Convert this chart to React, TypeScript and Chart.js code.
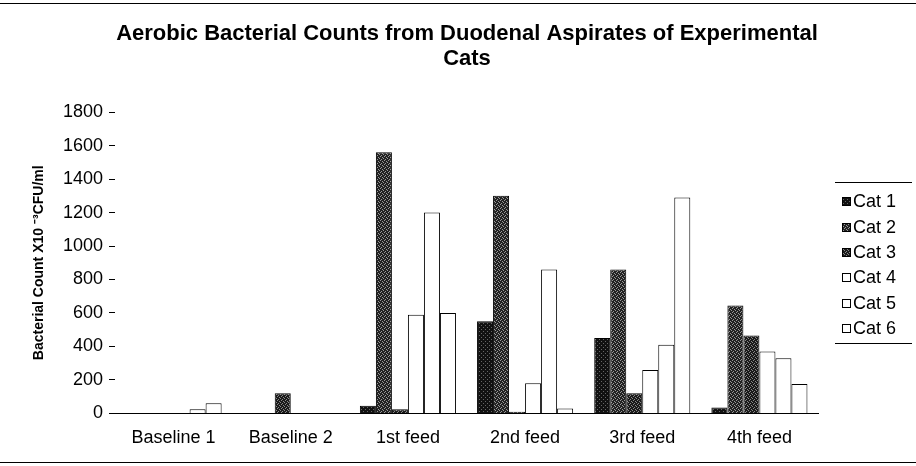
import React, { useEffect, useRef } from "react";
import { Chart, registerables } from "chart.js";

Chart.register(...registerables);

const categories = ["Baseline 1", "Baseline 2", "1st feed", "2nd feed", "3rd feed", "4th feed"];
const seriesNames = ["Cat 1", "Cat 2", "Cat 3", "Cat 4", "Cat 5", "Cat 6"];
const cat1 = [0, 0, 45, 550, 450, 35];
const cat2 = [0, 0, 1560, 1300, 860, 645];
const cat3 = [0, 120, 25, 10, 120, 465];
const cat4 = [0, 0, 590, 180, 260, 370];
const cat5 = [25, 0, 1200, 860, 410, 330];
const cat6 = [60, 0, 600, 30, 1290, 175];
const yTicks = [0, 200, 400, 600, 800, 1000, 1200, 1400, 1600, 1800];

const titleLines = ["Aerobic Bacterial Counts from Duodenal Aspirates of Experimental", "Cats"];
const yTitle = "Bacterial Count X10 \u207B\u00B3CFU/ml";
const FONT = "Liberation Sans, Arial, sans-serif";

function makePattern(base: string, dot: string, dots: number[][]) {
  const c = document.createElement("canvas");
  c.width = 4;
  c.height = 4;
  const g = c.getContext("2d")!;
  g.fillStyle = base;
  g.fillRect(0, 0, 4, 4);
  g.fillStyle = dot;
  dots.forEach(([x, y]) => g.fillRect(x, y, 1, 1));
  return g.createPattern(c, "repeat")!;
}

const framePlugin = {
  id: "frame",
  afterDraw(chart: any) {
    const ctx = chart.ctx;
    const area = chart.chartArea;
    ctx.save();
    ctx.strokeStyle = "#000";
    ctx.lineWidth = 1;
    ctx.beginPath();
    ctx.moveTo(0, 3.5);
    ctx.lineTo(chart.width, 3.5);
    ctx.moveTo(0, 462.5);
    ctx.lineTo(chart.width, 462.5);
    ctx.stroke();

    // legend
    const ds = chart.data.datasets;
    const step = 25.4;
    const cy = (area.top + area.bottom) / 2 + 2;
    const first = cy - ((ds.length - 1) * step) / 2;
    const bx = area.right + 24;
    ctx.font = "18px " + FONT;
    ctx.textBaseline = "middle";
    ctx.textAlign = "left";
    ds.forEach((d: any, i: number) => {
      const y = Math.round(first + i * step);
      ctx.fillStyle = d.backgroundColor;
      ctx.fillRect(bx, y - 4, 8, 8);
      ctx.strokeStyle = "#000";
      ctx.strokeRect(bx + 0.5, y - 3.5, 8, 8);
      ctx.fillStyle = "#000";
      ctx.fillText(d.label, bx + 11, y + 1);
    });
    ctx.beginPath();
    const lt = Math.round(first - 19) + 0.5;
    const lb = Math.round(first + (ds.length - 1) * step + 15) + 0.5;
    ctx.moveTo(area.right + 17, lt);
    ctx.lineTo(chart.width - 4, lt);
    ctx.moveTo(area.right + 17, lb);
    ctx.lineTo(chart.width - 4, lb);
    ctx.stroke();
    ctx.restore();
  },
};

export default function App() {
  const ref = useRef<HTMLCanvasElement>(null);
  useEffect(() => {
    const p1 = makePattern("#111", "#666", [[1, 1], [3, 3]]);
    const p2 = makePattern("#222", "#999", [[0, 0], [2, 1], [1, 3], [3, 2]]);
    const p3 = makePattern("#1a1a1a", "#888", [[1, 0], [3, 1], [0, 2], [2, 3]]);
    const fills = [p1, p2, p3, "#fff", "#fff", "#fff"];
    const values = [cat1, cat2, cat3, cat4, cat5, cat6];
    const chart = new Chart(ref.current!, {
      type: "bar",
      data: {
        labels: categories,
        datasets: seriesNames.map((name, i) => ({
          label: name,
          data: values[i],
          backgroundColor: fills[i] as any,
          borderColor: "#000",
          borderWidth: 1,
          categoryPercentage: 0.82,
          barPercentage: 1.0,
          yAxisID: "y",
        })),
      },
      options: {
        animation: false,
        responsive: false,
        maintainAspectRatio: false,
        layout: { padding: { left: 18, right: 0, top: 0, bottom: 3 } },
        plugins: {
          title: {
            display: true,
            text: titleLines,
            color: "#000",
            font: { family: FONT, size: 22, weight: "bold", lineHeight: 1.14 },
            padding: { top: 21, bottom: 41 },
          },
          legend: { display: false },
          tooltip: { enabled: false },
        },
        scales: {
          x: {
            grid: { display: false, drawTicks: false },
            border: { display: true, color: "#000", width: 1 },
            ticks: { color: "#000", font: { family: FONT, size: 18 }, padding: 14 },
          },
          y: {
            position: "left",
            min: 0,
            max: 1800,
            afterBuildTicks: (axis: any) => {
              axis.ticks = yTicks.map((v) => ({ value: v }));
            },
            afterFit: (axis: any) => {
              axis.width = 97;
            },
            grid: { drawOnChartArea: false, drawTicks: true, tickLength: 6, color: "#000" },
            border: { display: false },
            ticks: {
              color: "#000",
              font: { family: FONT, size: 18 },
              padding: 6,
              callback: (v: any) => String(v),
            },
            title: {
              display: true,
              text: yTitle,
              color: "#000",
              font: { family: FONT, size: 14, weight: "bold" },
              padding: { top: 13, bottom: 0 },
            },
          },
          yR: {
            position: "right",
            display: true,
            afterFit: (axis: any) => {
              axis.width = 98;
            },
            grid: { display: false, drawTicks: false },
            border: { display: false },
            ticks: { display: false },
          },
        },
      },
      plugins: [framePlugin],
    });
    return () => chart.destroy();
  }, []);
  return (
    <div style={{ position: "absolute", left: 0, top: 0, width: 916, height: 466, background: "#fff" }}>
      <canvas ref={ref} width={916} height={466} style={{ display: "block" }} />
    </div>
  );
}
